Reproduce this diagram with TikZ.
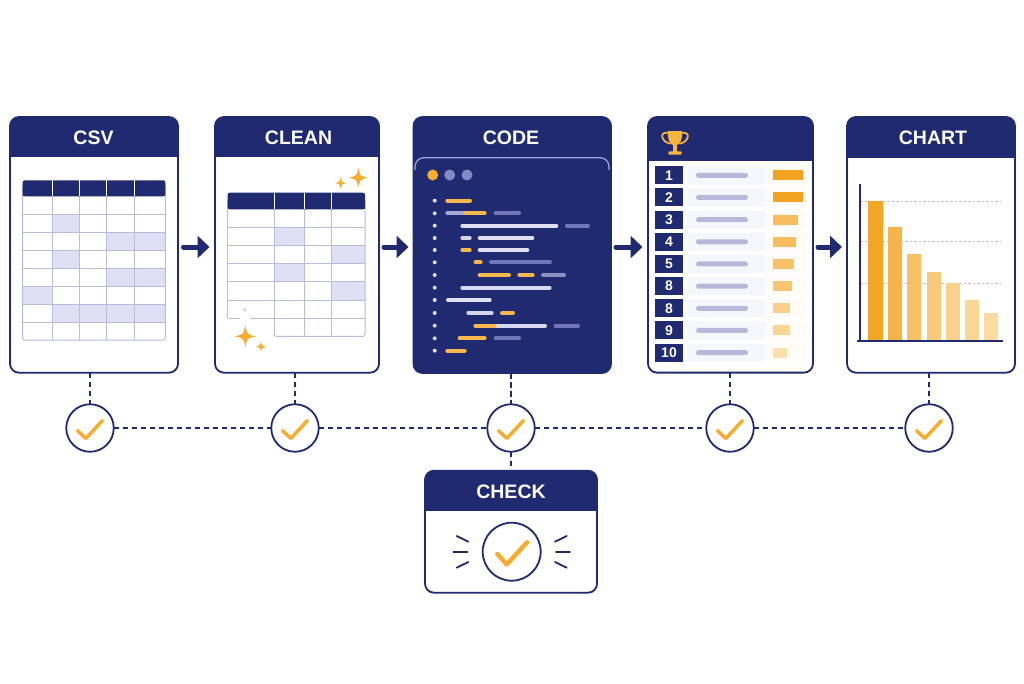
\documentclass[tikz,border=0pt]{standalone}
\usepackage{fontspec}
\setmainfont{Liberation Sans}
\usetikzlibrary{arrows.meta}
\definecolor{navy}{HTML}{1F2A70}
\definecolor{amber}{HTML}{F5AC2F}
\definecolor{gridl}{HTML}{B9BBDD}
\definecolor{cellshade}{HTML}{E0E0F4}
\definecolor{codepurple}{HTML}{7076B8}
\definecolor{codelight}{HTML}{DDDFF2}
\definecolor{codeblue}{HTML}{A3A8DC}
\definecolor{rowbg}{HTML}{F6F7FC}
\definecolor{rowbar}{HTML}{B9B8DA}
\tikzset{
  cardbox/.style={draw=navy,line width=1.8pt,rounded corners=9pt,inner sep=0pt,outer sep=0pt},
  cardtitle/.style={text=white,font=\bfseries\fontsize{19.5}{20}\selectfont,inner sep=0pt},
  checkring/.style={circle,draw=navy,line width=1.8pt,fill=white,inner sep=0pt,outer sep=0pt},
  tickmark/.style={draw=amber,line cap=round,line join=round},
  link/.style={draw=navy,line width=1.8pt,dash pattern=on 5.5pt off 3.5pt},
  flow/.style={draw=navy,line width=5pt,line cap=round,-{Triangle[length=12pt,width=22pt]}},
  ray/.style={draw=navy,line width=1.8pt,line cap=round},
  grid line/.style={draw=gridl,line width=1pt},
  ranknum/.style={text=white,font=\bfseries\fontsize{14}{14}\selectfont,inner sep=0pt},
}
\newcommand{\cardhead}[6]{% name,x0,y0,x1,y1,header bottom
  \begin{scope}
    \clip[rounded corners=9pt] (#2,#3) rectangle (#4,#5);
    \fill[white] (#2,#3) rectangle (#4,#5);
    \fill[navy] (#2,#3) rectangle (#4,#6);
  \end{scope}
  \node[cardbox,minimum width={(#4-#2)*1pt},minimum height={(#5-#3)*1pt}] (#1) at ({(#2+#4)/2},{(#3+#5)/2}) {};
}
\newcommand{\sparkle}[4][amber]{%
  \fill[#1] (#2,#3-#4) .. controls (#2+.16*#4,#3-.16*#4) .. (#2+#4,#3)
    .. controls (#2+.16*#4,#3+.16*#4) .. (#2,#3+#4)
    .. controls (#2-.16*#4,#3+.16*#4) .. (#2-#4,#3)
    .. controls (#2-.16*#4,#3-.16*#4) .. cycle;
}
\newcommand{\cb}[4]{%
  \draw[line width=4pt,line cap=round,draw=#4] ({405+#1/3+2},{105+#3/3}) -- ({405+#2/3-2},{105+#3/3});
}
\begin{document}
\begin{tikzpicture}[x=1pt,y=-1pt]
\useasboundingbox[fill=white] (0,0) rectangle (1024,683);

% ---------- CSV ----------
\cardhead{csv}{10}{117}{178}{372.7}{157}
\node[cardtitle] (csvt) at (93.5,138) {CSV};
\fill[cellshade] (52,214.3) rectangle (79.3,232.3);
\fill[cellshade] (106.7,232.3) rectangle (165.3,250.3);
\fill[cellshade] (52,250.3) rectangle (79.3,268.3);
\fill[cellshade] (106.7,268.3) rectangle (165.3,286.3);
\fill[cellshade] (22.7,286.3) rectangle (52,304.3);
\fill[cellshade] (52,304.3) rectangle (165.3,322.3);
\foreach \yy in {214.3,232.3,250.3,268.3,286.3,304.3,322.3}
  \draw[grid line] (22.7,\yy) -- (165.3,\yy);
\foreach \xx in {52,79.3,106.7,134.7}
  \draw[grid line] (\xx,196.3) -- (\xx,340);
\draw[grid line,rounded corners=2pt] (22.7,185) -- (22.7,340) -- (165.3,340) -- (165.3,185);
\fill[navy,rounded corners=2pt] (22.7,180.3) rectangle (165.3,196.3);
\fill[navy] (22.7,190) rectangle (165.3,196.3);
\foreach \xx in {52,79.3,106.7,134.7}
  \draw[white,line width=1pt] (\xx,180.3) -- (\xx,196.3);

% ---------- CLEAN ----------
\cardhead{clean}{215}{117}{379}{372.7}{157}
\node[cardtitle] (cleant) at (298.5,138) {CLEAN};
\fill[cellshade] (274.3,227) rectangle (304.7,245);
\fill[cellshade] (331.7,245) rectangle (365,263.3);
\fill[cellshade] (274.3,263.3) rectangle (304.7,281.7);
\fill[cellshade] (331.7,281.7) rectangle (365,300);
\foreach \yy in {227,245,263.3,281.7,300}
  \draw[grid line] (227.7,\yy) -- (365,\yy);
\draw[grid line] (274.3,318.3) -- (365,318.3);
\draw[grid line] (227.7,318.3) -- (240,318.3);
\draw[grid line] (250,318.3) -- (274.3,318.3);
\foreach \xx in {304.7,331.7}
  \draw[grid line] (\xx,209.3) -- (\xx,336.3);
\draw[grid line] (274.3,209.3) -- (274.3,336.3);
\draw[grid line,rounded corners=2pt] (227.7,200) -- (227.7,318.3);
\draw[grid line,rounded corners=2pt] (274.3,330) -- (274.3,336.3) -- (365,336.3) -- (365,200);
\fill[navy,rounded corners=2pt] (227.7,192.7) rectangle (365,209.3);
\fill[navy] (227.7,200) rectangle (365,209.3);
\foreach \xx in {274.3,304.7,331.7}
  \draw[white,line width=1pt] (\xx,192.7) -- (\xx,209.3);
\sparkle{358.3}{177.7}{10}
\sparkle{340.7}{183}{6}
\sparkle{245.3}{336.3}{11}
\sparkle{261}{346.7}{5.5}
\sparkle[gridl!60]{244.7}{309.7}{3}

% ---------- CODE ----------
\cardhead{code}{413.5}{117}{611}{373}{373}
\node[cardtitle] (codet) at (511,138) {CODE};
\draw[codeblue,line width=1.2pt,rounded corners=9pt] (415,170) -- (415,157.7) -- (609,157.7) -- (609,170);
\fill[amber] (432.7,175) circle (5.5);
\fill[codepurple!85!white] (449.7,175) circle (5.5);
\fill[codepurple!85!white] (467,175) circle (5.5);
\foreach \zz in {287,325,362,399,435,472,510,548,585,624,662,700,737}
  \fill[codelight] (434.7,{105+\zz/3}) circle (2);
\cb{121}{201}{287}{amber!85!white}
\cb{121}{190}{325}{codeblue}
\cb{175}{245}{325}{amber!85!white}
\cb{266}{348}{325}{codepurple}
\cb{166}{460}{362}{codelight}
\cb{480}{555}{362}{codepurple}
\cb{166}{200}{399}{codelight!90!gray}
\cb{218}{388}{399}{codelight}
\cb{166}{200}{435}{amber!85!white}
\cb{218}{373}{435}{codelight}
\cb{206}{233}{472}{amber!85!white}
\cb{252}{441}{472}{codepurple}
\cb{218}{318}{510}{amber!85!white}
\cb{337}{389}{510}{amber!85!white}
\cb{408}{483}{510}{codepurple!80!white}
\cb{166}{440}{548}{codelight!90!codeblue}
\cb{123}{260}{585}{codelight}
\cb{184}{266}{624}{codelight!90!gray}
\cb{285}{330}{624}{amber!85!white}
\cb{265}{426}{662}{codelight!90!codeblue}
\cb{205}{275}{662}{amber!85!white}
\cb{446}{525}{662}{codepurple}
\cb{158}{245}{700}{amber!85!white}
\cb{266}{348}{700}{codepurple}
\cb{121}{185}{737}{amber!85!white}

% ---------- RANKING ----------
\cardhead{rank}{648}{117}{813}{372.6}{160.7}
\begin{scope}[shift={(630,105)},x=.33333pt,y=-.33333pt]
  \fill[amber!92!white] (113,78) -- (157,78) .. controls (157,105) and (150,120) .. (135,122)
    .. controls (120,120) and (113,105) .. (113,78) -- cycle;
  \draw[amber!92!white,line width=1.7pt] (113,84) .. controls (88,78) and (92,112) .. (122,116);
  \draw[amber!92!white,line width=1.7pt] (157,84) .. controls (182,78) and (178,112) .. (148,116);
  \fill[amber!92!white] (130,120) rectangle (140,140);
  \fill[amber!92!white,rounded corners=1pt] (115,139) rectangle (155,149);
\end{scope}
\foreach \i/\lab/\zx/\col in {0/1/520/F2A322,1/2/520/F2A322,2/3/504/F7BC5C,3/4/498/F7BC5C,4/5/492/F8C268,5/8/486/F8C670,6/8/481/F9CF8A,7/9/479/FAD693,8/10/471/FBE0AE}{
  \pgfmathsetmacro{\yt}{166.3+\i*22.17}
  \pgfmathsetmacro{\ym}{\yt+9}
  \definecolor{barcol}{HTML}{\col}
  \fill[rowbg,rounded corners=2pt] (686.7,\yt) rectangle (765,{\yt+18});
  \fill[orange!3] (765,\yt) rectangle (806,{\yt+18});
  \fill[rowbar,rounded corners=2.5pt] (696,{\ym-2.5}) rectangle (748,{\ym+2.5});
  \fill[barcol] (772.7,{\ym-5}) rectangle ({630+\zx/3},{\ym+5});
  \fill[navy] (654.7,\yt) rectangle (683.3,{\yt+18});
  \node[ranknum] (num\i) at (669,\ym) {\lab};
}

% ---------- CHART ----------
\cardhead{chart}{847}{117}{1015}{372.7}{157.7}
\node[cardtitle] (chartt) at (933,138) {CHART};
\foreach \yy in {201.3,241.3,283.3}
  \draw[gridl,line width=.8pt,dash pattern=on 2.5pt off 2pt] (860,\yy) -- (1000,\yy);
\foreach \xa/\xb/\yt/\col in {868/882.7/201.3/F3A727,888/902/227/F5B34A,907.3/921.3/253.7/F8BF63,927/940.7/272.3/F9C97B,946/960/283.3/FAD08A,965/979/300.3/FBD796,984/998/313.3/FBDB9F}{
  \definecolor{barcol}{HTML}{\col}
  \fill[barcol] (\xa,\yt) rectangle (\xb,341);
}
\draw[navy,line width=1.5pt] (860,183.7) -- (860,341);
\draw[navy,line width=1.5pt] (856.7,341) -- (1003.3,341);

% ---------- CHECK ----------
\cardhead{check}{425}{470.7}{597}{592.7}{511}
\node[cardtitle] (checkt) at (511,491.5) {CHECK};
\node[checkring,minimum size=58pt] (bigring) at (511.7,551.7) {};
\draw[tickmark,line width=4.5pt] ([shift={(-14.3,2.3)}]bigring.center) -- ([shift={(-5,12.7)}]bigring.center) -- ([shift={(15.3,-9.3)}]bigring.center);
\draw[ray] (456.7,536) -- (468.3,541.7);
\draw[ray] (453.3,552) -- (467.3,552);
\draw[ray] (456.7,567.7) -- (468.3,562);
\draw[ray] (555,541.7) -- (566.7,536);
\draw[ray] (556,552) -- (570,552);
\draw[ray] (555,562) -- (566.7,567.7);

% ---------- CHECK RINGS + LINKS ----------
\node[checkring,minimum size=47.5pt] (c1) at (90,428) {};
\node[checkring,minimum size=47.5pt] (c2) at (295,428) {};
\node[checkring,minimum size=47.5pt] (c3) at (511,428) {};
\node[checkring,minimum size=47.5pt] (c4) at (730,428) {};
\node[checkring,minimum size=47.5pt] (c5) at (929,428) {};
\foreach \k/\card in {c1/csv,c2/clean,c3/code,c4/rank,c5/chart}{
  \draw[link] (\k |- \card.south) -- (\k.north);
  \draw[tickmark,line width=3.5pt] ([shift={(-12.5,2.7)}]\k.center) -- ([shift={(-4.2,10.4)}]\k.center) -- ([shift={(12.3,-7.3)}]\k.center);
}
\draw[link] (c1) -- (c2);
\draw[link] (c2) -- (c3);
\draw[link] (c3) -- (c4);
\draw[link] (c4) -- (c5);
\draw[link] (c3.south) -- (c3 |- check.north);

% ---------- FLOW ARROWS ----------
\coordinate (a1s) at (183.5,247); \coordinate (a1e) at (209.5,247);
\coordinate (a2s) at (384,247);   \coordinate (a2e) at (408.5,247);
\coordinate (a3s) at (616,247);   \coordinate (a3e) at (642.5,247);
\coordinate (a4s) at (818,247);   \coordinate (a4e) at (842,247);
\draw[flow] (a1s) -- (a1e);
\draw[flow] (a2s) -- (a2e);
\draw[flow] (a3s) -- (a3e);
\draw[flow] (a4s) -- (a4e);
\end{tikzpicture}
\end{document}
